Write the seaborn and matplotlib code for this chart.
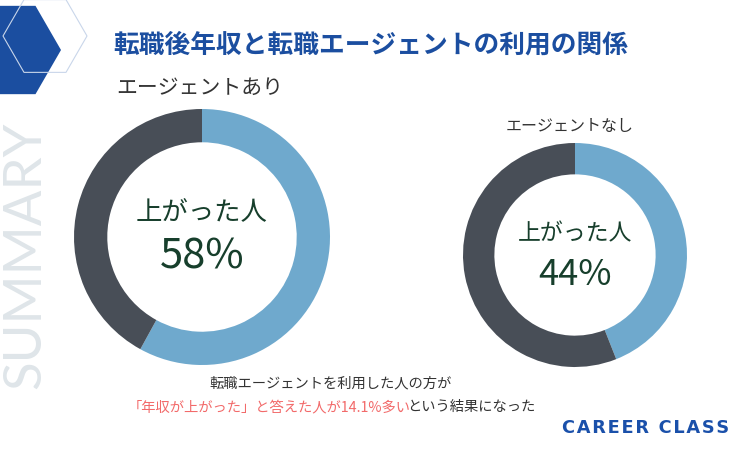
import matplotlib
matplotlib.use("Agg")
import matplotlib.pyplot as plt
from matplotlib.patches import RegularPolygon
import seaborn as sns

# data
groups = ["エージェントあり", "エージェントなし"]
raised_pct = [58, 44]
center_label = "上がった人"
title = "転職後年収と転職エージェントの利用の関係"
note_line1 = "転職エージェントを利用した人の方が"
note_red = "「年収が上がった」と答えた人が14.1%多い"
note_black = "という結果になった"
brand = "CAREER CLASS"

BLUE = "#1B4EA0"
LIGHT = "#6FA9CD"
DARK = "#484E57"
GREEN = "#173F2C"
RED = "#F26A6A"

sns.set_theme(style="white")
plt.rcParams['font.family'] = ['Noto Sans CJK JP', 'DejaVu Sans']

W, H = 740, 457
fig = plt.figure(figsize=(W / 100, H / 100), dpi=100)
fig.patch.set_facecolor("white")


def px_axes(x, y, w, h):
    # pixel box (top-left origin) -> figure axes
    return fig.add_axes([x / W, 1 - (y + h) / H, w / W, h / H])


# background decorations on a full-figure axes in pixel units
bg = fig.add_axes([0, 0, 1, 1])
bg.set_xlim(0, W)
bg.set_ylim(H, 0)
bg.axis("off")
bg.add_patch(RegularPolygon((10, 50), 6, radius=51, orientation=0.5236,
                            facecolor=BLUE, edgecolor="none"))
bg.add_patch(RegularPolygon((45, 36), 6, radius=42, orientation=0.5236,
                            facecolor="none", edgecolor="#C9D6EA", lw=0.8))
bg.text(26, 255, "SUMMARY", rotation=90, ha="center", va="center",
        fontsize=38, color="#DFE5E9", family=["Lato", "DejaVu Sans"])

bg.text(113, 45, title, ha="left", va="center", fontsize=18.5,
        fontweight="bold", color=BLUE)
bg.text(116, 88, groups[0], ha="left", va="center", fontsize=15, color="#333333")
bg.text(570, 127, groups[1], ha="center", va="center", fontsize=11.5, color="#333333")

bg.text(331, 383, note_line1, ha="center", va="center", fontsize=10.3, color="#333333")
t = bg.text(128, 407, note_red, ha="left", va="center", fontsize=10.3, color=RED)
bg.annotate(note_black, xycoords=t, xy=(1, 0), xytext=(-3, 0),
            textcoords="offset points", va="bottom", ha="left",
            fontsize=10.3, color="#333333")
# letter-spaced logo text
bg.text(729, 428, "\u200a".join(brand), ha="right", va="center",
        fontsize=12.8, fontweight="bold", color="#1A50AA", family=["DejaVu Sans"])

# donuts
boxes = [(74, 109, 256, 256), (463, 143, 224, 224)]
widths = [0.26, 0.28]
label_sizes = [19, 16.5]
pct_sizes = [30, 26]
label_y = [0.19, 0.19]
pct_y = [-0.16, -0.18]
for i, (box, pct) in enumerate(zip(boxes, raised_pct)):
    ax = px_axes(*box)
    ax.pie([pct, 100 - pct], colors=[LIGHT, DARK], startangle=90,
           counterclock=False, radius=1,
           wedgeprops=dict(width=widths[i], linewidth=0))
    ax.set_xlim(-1, 1)
    ax.set_ylim(-1, 1)
    ax.set_aspect("equal")
    ax.axis("off")
    ax.text(0, label_y[i], center_label, ha="center", va="center",
            fontsize=label_sizes[i], color=GREEN)
    ax.text(0, pct_y[i], f"{pct}%", ha="center", va="center",
            fontsize=pct_sizes[i], color=GREEN)

fig.savefig("out.png", dpi=100)
